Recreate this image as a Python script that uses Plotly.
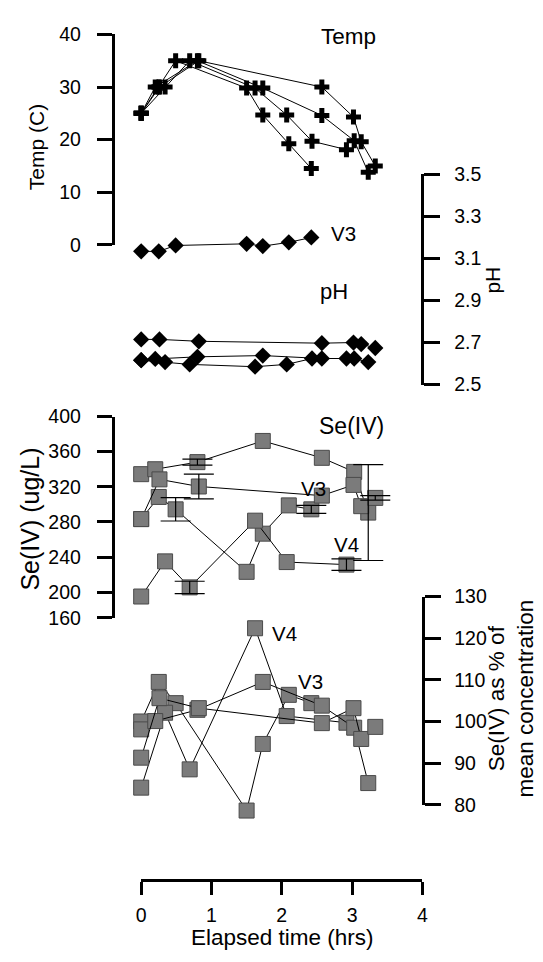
import plotly.graph_objects as go

W, H = 543, 962

# ---------------- data ----------------
# Elapsed time (hrs) for the four vessels
t_A = [0, 0.25, 0.49, 1.50, 1.73, 2.10, 2.42]   # V3
t_B = [0, 0.34, 0.69, 1.62, 2.07, 2.43, 2.92]   # V4
t_C = [0, 0.20, 0.80, 1.73, 2.57, 3.03, 3.23]
t_D = [0, 0.26, 0.82, 2.57, 3.02, 3.13, 3.33]

temp_A = [25, 30, 35, 29.8, 24.7, 19.2, 14.5]
temp_B = [25, 30, 35, 29.8, 24.7, 19.7, 18.1]
temp_C = [25, 30, 35, 29.8, 24.6, 19.8, 13.8]
temp_D = [25, 30, 35, 30.0, 24.3, 19.6, 15.0]

ph_A = [3.134, 3.134, 3.162, 3.170, 3.159, 3.177, 3.200]
ph_B = [2.616, 2.607, 2.596, 2.585, 2.596, 2.624, 2.624]
ph_C = [2.616, 2.622, 2.632, 2.638, 2.624, 2.624, 2.607]
ph_D = [2.715, 2.715, 2.706, 2.697, 2.700, 2.693, 2.674]

se_A = [283.3, 308.5, 294.4, 223.3, 266.7, 298.9, 294.4]
se_B = [195.2, 235.2, 205.6, 281.5, 234.4, None, 231.5]
se_C = [334.4, 340.0, 348.1, 372.2, 353.0, 337.0, 290.7]
se_D = [283.3, 328.5, 320.4, 310.0, 322.2, 298.0, 307.4]

# standard deviations shown as error bars (index of sample -> error)
se_err_A = {2: 13.3, 6: 4.5}
se_err_B = {2: 7.0, 6: 6.5}
se_err_C = {2: 3.5, 6: 54.5}
se_err_D = {2: 14.0, 6: 2.6}

pct_A = [100.0, 109.5, 104.4, 78.6, 94.6, 106.4, 104.4]
pct_B = [84.1, 102.1, 88.5, 122.4, 101.3, None, 99.7]
pct_C = [98.1, 100.1, 102.8, 109.5, 103.8, 98.5, 85.2]
pct_D = [91.3, 105.6, 103.2, 99.6, 103.2, 95.8, 98.7]

x_ticks = [0, 1, 2, 3, 4]
temp_ticks = [0, 10, 20, 30, 40]
ph_ticks = [2.5, 2.7, 2.9, 3.1, 3.3, 3.5]
se_tick_vals = [171, 200, 240, 280, 320, 360, 400]
se_tick_text = ["160", "200", "240", "280", "320", "360", "400"]
pct_ticks = [80, 90, 100, 110, 120, 130]

# ---------------- styling ----------------
FONT = "Liberation Sans, Arial, sans-serif"
TICKF = dict(family=FONT, size=19.5, color="black")


def lab(size):
    return dict(family=FONT, size=size, color="black")


SQ_FILL = "#7b7b7b"
SQ_EDGE = "#4a4a4a"


def py(p):
    return 1 - p / H


def px(p):
    return p / W


fig = go.Figure()

times = [t_A, t_B, t_C, t_D]

# Temperature
for t, v in zip(times, [temp_A, temp_B, temp_C, temp_D]):
    fig.add_trace(go.Scatter(x=t, y=v, xaxis="x", yaxis="y", mode="lines+markers",
                             line=dict(color="black", width=1),
                             marker=dict(symbol="cross", size=12.5, color="black"),
                             cliponaxis=False))
# pH
for t, v in zip(times, [ph_A, ph_B, ph_C, ph_D]):
    fig.add_trace(go.Scatter(x=t, y=v, xaxis="x", yaxis="y2", mode="lines+markers",
                             line=dict(color="black", width=1),
                             marker=dict(symbol="diamond", size=12.5, color="black"),
                             cliponaxis=False))
# Se(IV)
for t, v in zip(times, [se_A, se_B, se_C, se_D]):
    fig.add_trace(go.Scatter(x=t, y=v, xaxis="x", yaxis="y3", mode="lines+markers",
                             connectgaps=True,
                             line=dict(color="black", width=1),
                             marker=dict(symbol="square", size=15, color=SQ_FILL,
                                         line=dict(color=SQ_EDGE, width=1)),
                             cliponaxis=False))
# error bars on top of the squares
for t, v, e in zip(times, [se_A, se_B, se_C, se_D], [se_err_A, se_err_B, se_err_C, se_err_D]):
    idx = sorted(e.keys())
    fig.add_trace(go.Scatter(x=[t[i] for i in idx], y=[v[i] for i in idx],
                             xaxis="x", yaxis="y3", mode="markers",
                             marker=dict(size=1, color="rgba(0,0,0,0)"),
                             error_y=dict(type="data", array=[e[i] for i in idx],
                                          color="black", thickness=1.2, width=15),
                             cliponaxis=False))
# Se(IV) as % of mean
for t, v in zip(times, [pct_A, pct_B, pct_C, pct_D]):
    fig.add_trace(go.Scatter(x=t, y=v, xaxis="x", yaxis="y5", mode="lines+markers",
                             connectgaps=True,
                             line=dict(color="black", width=1),
                             marker=dict(symbol="square", size=15, color=SQ_FILL,
                                         line=dict(color=SQ_EDGE, width=1)),
                             cliponaxis=False))
# dummy trace so the visible % axis gets drawn
fig.add_trace(go.Scatter(x=[None], y=[None], xaxis="x", yaxis="y4", mode="markers"))

common = dict(showline=True, linewidth=3, linecolor="black", ticks="outside",
              tickwidth=3, tickcolor="black", showgrid=False, zeroline=False,
              tickfont=TICKF, fixedrange=True)

temp_dom = [py(239.3), py(24)]
ph_dom = [py(382.3), py(167.3)]
se_dom = [py(621), py(415)]
pct_dom = [py(812.3), py(599.3)]
pct_range = [pct_ticks[0], pct_ticks[-1]]
pct_data_dom = [py(860), pct_dom[1]]
span = (pct_range[1] - pct_range[0]) / (pct_dom[1] - pct_dom[0])
pct_data_range = [pct_range[0] - (pct_dom[0] - pct_data_dom[0]) * span, pct_range[1]]

fig.update_layout(
    width=W, height=H,
    margin=dict(l=0, r=0, t=0, b=0),
    paper_bgcolor="white", plot_bgcolor="rgba(0,0,0,0)",
    showlegend=False,
    xaxis=dict(domain=[px(139), px(426)], range=[0, 4], anchor="free", position=py(889),
               tickvals=x_ticks, ticklen=13, ticklabelstandoff=4, **common),
    yaxis=dict(domain=temp_dom, range=[0, 40], anchor="free", position=px(110), side="left",
               tickvals=temp_ticks, ticklen=15, ticklabelstandoff=12, **common),
    yaxis2=dict(domain=ph_dom, range=[2.5, 3.5], anchor="free", position=px(426), side="right",
                tickvals=ph_ticks, tickformat=".1f", ticklen=16, ticklabelstandoff=10, **common),
    yaxis3=dict(domain=se_dom, range=[se_tick_vals[0], se_tick_vals[-1]], anchor="free",
                position=px(110), side="left", tickvals=se_tick_vals, ticktext=se_tick_text,
                ticklen=15, ticklabelstandoff=12, **common),
    yaxis4=dict(domain=pct_dom, range=pct_range, anchor="free", position=px(427), side="right",
                tickvals=pct_ticks, ticklen=16, ticklabelstandoff=9, **common),
    yaxis5=dict(domain=pct_data_dom, range=pct_data_range, anchor="free", position=px(427),
                visible=False, fixedrange=True),
)

ann = [
    ("Temp", 351, 26, 0, lab(22.5)),
    ("V3", 345, 228, 0, lab(20.5)),
    ("pH", 336, 287, 0, lab(22)),
    ("Se(IV)", 354, 425, 0, lab(23)),
    ("V3", 315, 489, 0, lab(20.5)),
    ("V4", 349, 546, 0, lab(20.5)),
    ("V4", 285, 637, 0, lab(20.5)),
    ("V3", 312, 686, 0, lab(20.5)),
    ("Temp (C)", 32, 139, -90, lab(21)),
    ("Se(IV) (ug/L)", 26, 520, -90, lab(25)),
    ("pH", 498, 275, -90, lab(21)),
    ("Se(IV) as % of<br>mean concentration", 516, 704, -90, lab(22.5)),
    ("Elapsed time (hrs)", 283, 948, 0, lab(22.5)),
]
for text, x, y, ang, f in ann:
    fig.add_annotation(text=text, x=px(x), y=py(y), xref="paper", yref="paper",
                       showarrow=False, textangle=ang, font=f,
                       xanchor="center", yanchor="middle")

fig.write_html("out.html")
